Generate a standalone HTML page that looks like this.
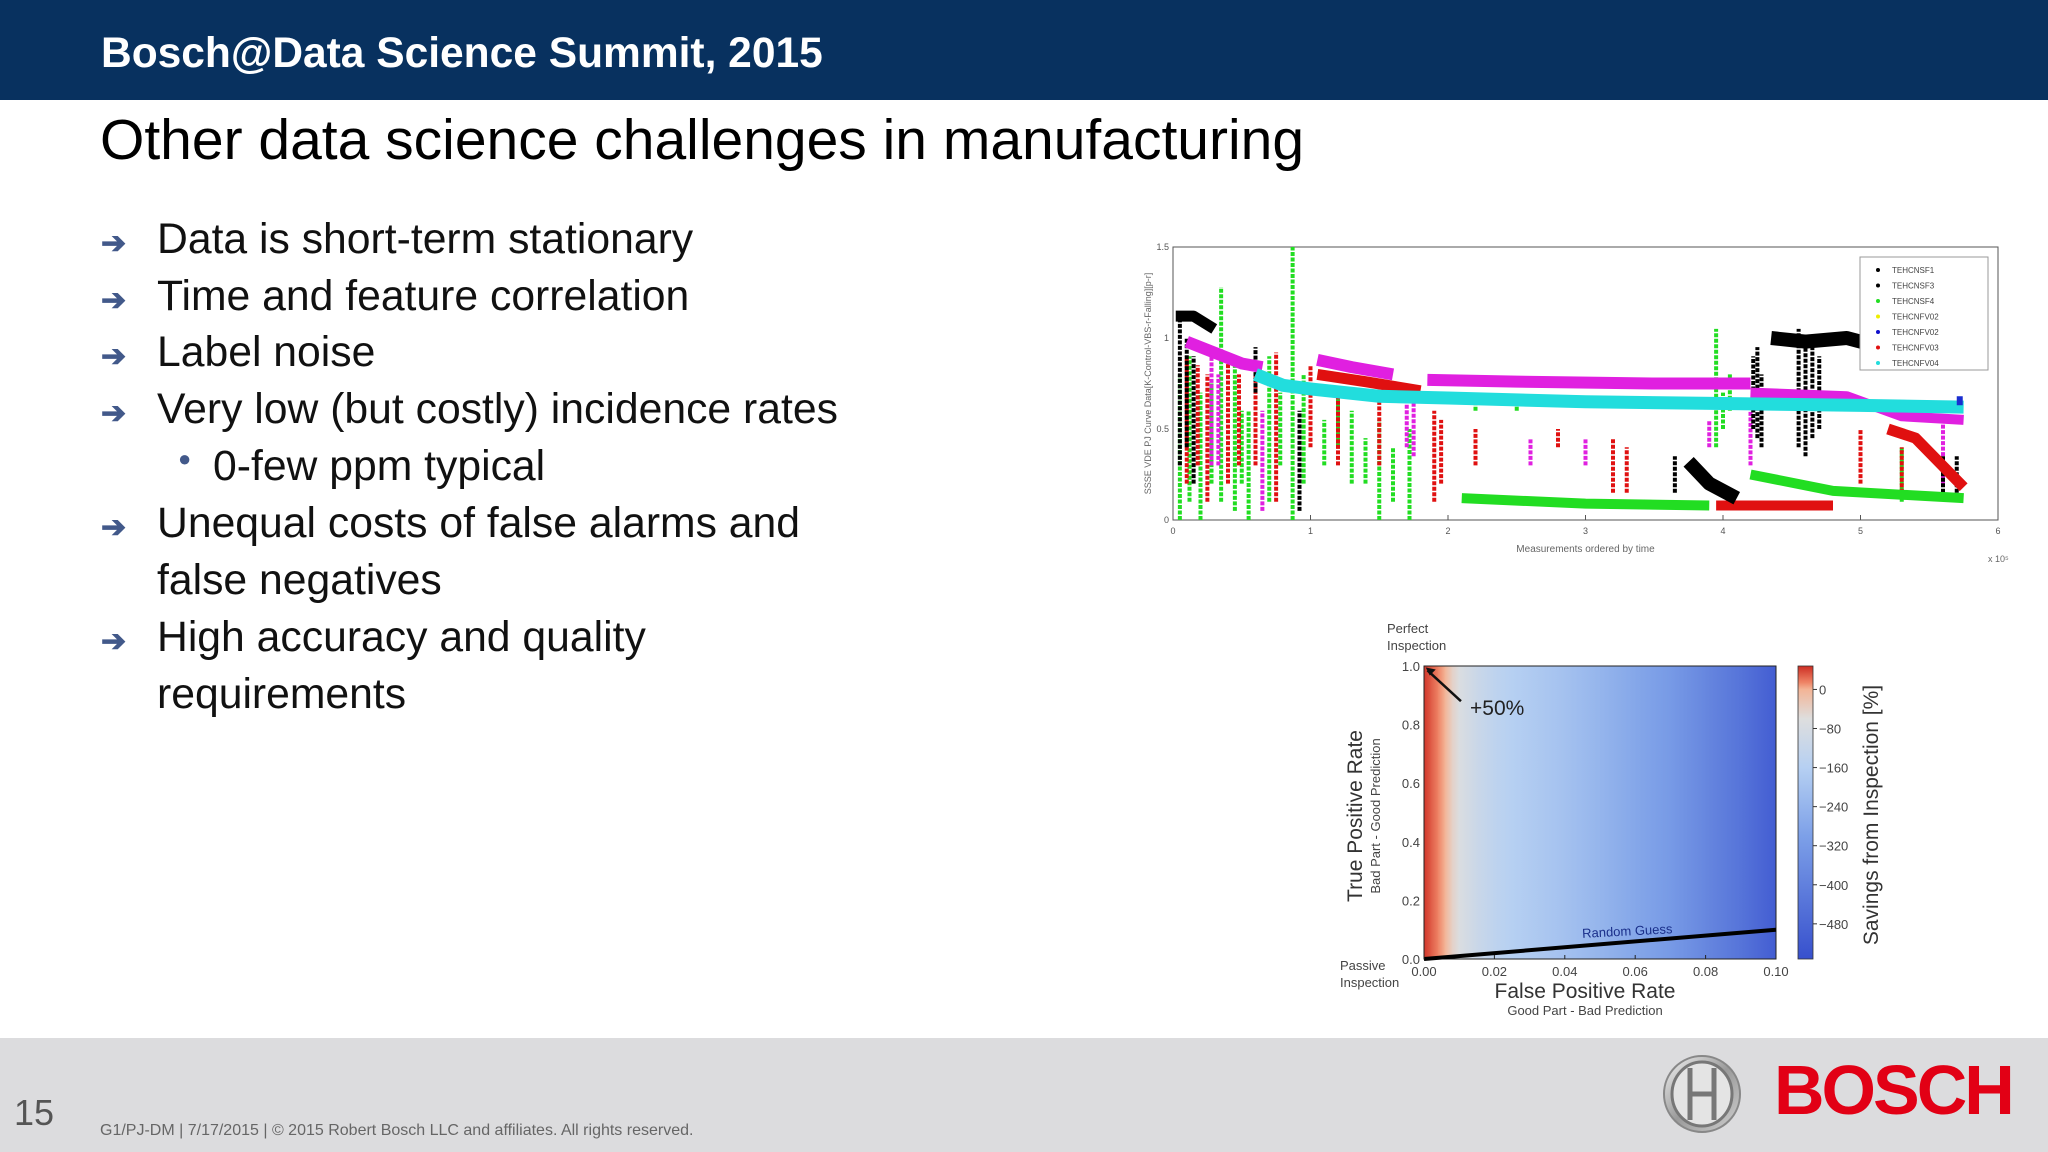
<!DOCTYPE html>
<html><head><meta charset="utf-8">
<style>
html,body{margin:0;padding:0}
body{width:2048px;height:1152px;position:relative;background:#fff;overflow:hidden;font-family:"Liberation Sans",Arial,sans-serif}
.abs{position:absolute}
.hdr{left:0;top:0;width:2048px;height:100px;background:#08315f}
.hdr span{position:absolute;left:101px;top:30px;color:#fff;font-weight:bold;font-size:42.5px;white-space:nowrap}
.sub{left:100px;top:107px;font-size:57px;color:#000;white-space:nowrap}
.bl{font-size:42.7px;color:#111;white-space:nowrap}
.arr{font-size:30px;color:#42598a;font-weight:bold}
.foot{left:0;top:1038px;width:2048px;height:114px;background:#dcdcde}
</style></head>
<body>
<div class="abs hdr"><span>Bosch@Data Science Summit, 2015</span></div>
<div class="abs sub">Other data science challenges in manufacturing</div>

<div>
<div class="abs arr" style="left:101px;top:226px">➔</div>
<div class="abs bl" style="left:157px;top:215px">Data is short-term stationary</div>
<div class="abs arr" style="left:101px;top:283px">➔</div>
<div class="abs bl" style="left:157px;top:272px">Time and feature correlation</div>
<div class="abs arr" style="left:101px;top:339px">➔</div>
<div class="abs bl" style="left:157px;top:328px">Label noise</div>
<div class="abs arr" style="left:101px;top:396px">➔</div>
<div class="abs bl" style="left:157px;top:385px">Very low (but costly) incidence rates</div>
<div class="abs bl" style="left:178px;top:446px;font-size:22px;color:#42598a">●</div>
<div class="abs bl" style="left:213px;top:442px">0-few ppm typical</div>
<div class="abs arr" style="left:101px;top:510px">➔</div>
<div class="abs bl" style="left:157px;top:499px">Unequal costs of false alarms and</div>
<div class="abs bl" style="left:157px;top:556px">false negatives</div>
<div class="abs arr" style="left:101px;top:624px">➔</div>
<div class="abs bl" style="left:157px;top:613px">High accuracy and quality</div>
<div class="abs bl" style="left:157px;top:670px">requirements</div>
</div>

<svg id="top" class="abs" style="left:1120px;top:230px" width="900" height="340"></svg>
<svg id="roc" class="abs" style="left:1320px;top:610px" width="600" height="420"></svg>

<div class="abs foot"></div>
<div class="abs" style="left:14px;top:1092px;font-size:36px;color:#555">15</div>
<div class="abs" style="left:100px;top:1122px;font-size:16px;color:#666;white-space:nowrap">G1/PJ-DM | 7/17/2015 | © 2015 Robert Bosch LLC and affiliates. All rights reserved.</div>
<svg class="abs" style="left:1660px;top:1052px" width="84" height="84">
<defs><linearGradient id="sil" x1="0" y1="0" x2="1" y2="1"><stop offset="0" stop-color="#f4f4f4"/><stop offset="0.5" stop-color="#9a9a9a"/><stop offset="1" stop-color="#d0d0d0"/></linearGradient></defs>
<ellipse cx="42" cy="42" rx="38" ry="38" fill="url(#sil)" stroke="#888" stroke-width="2"/>
<ellipse cx="42" cy="42" rx="30" ry="32" fill="#e4e4e4" stroke="#777" stroke-width="3"/>
<path d="M30 16 V68 M54 16 V68 M30 42 H54" stroke="#777" stroke-width="5" fill="none"/>
</svg>
<div class="abs" style="left:1774px;top:1050px;font-size:70px;font-weight:bold;color:#e20015;letter-spacing:-3px">BOSCH</div>

<script>
// ---------- top scatter chart data ----------
const topXTicks=[0,1,2,3,4,5,6];
const topYTicks=[0,0.5,1,1.5];
const legendLabels=["TEHCNSF1","TEHCNSF3","TEHCNSF4","TEHCNFV02","TEHCNFV02","TEHCNFV03","TEHCNFV04"];
const legendColors=["#000","#000","#22dd22","#eeee00","#1010cc","#e01010","#22dddd"];
const cyanX=[0.6,0.8,1.0,1.5,2.0,3.0,4.0,5.0,5.75];
const cyanY=[0.80,0.74,0.72,0.68,0.67,0.65,0.64,0.63,0.62];
const magAX=[0.1,0.3,0.5,0.65];
const magAY=[0.98,0.92,0.86,0.84];
const magBX=[1.05,1.3,1.6];
const magBY=[0.88,0.84,0.80];
const magCX=[1.85,2.5,3.5,4.2];
const magCY=[0.77,0.76,0.75,0.75];
const magDX=[4.2,4.9,5.3,5.75];
const magDY=[0.70,0.68,0.57,0.55];
const redAX=[1.05,1.4,1.8];
const redAY=[0.80,0.76,0.71];
const redBX=[3.95,4.8];
const redBY=[0.08,0.08];
const redCX=[5.2,5.4,5.75];
const redCY=[0.50,0.45,0.18];
const greenAX=[2.1,3.0,3.9];
const greenAY=[0.12,0.09,0.08];
const greenBX=[4.2,4.8,5.75];
const greenBY=[0.25,0.16,0.12];
const blackAX=[4.35,4.6,4.9,5.1];
const blackAY=[1.0,0.98,1.0,0.96];
const blackBX=[3.75,3.9,4.1];
const blackBY=[0.32,0.2,0.12];
const blackCX=[0.02,0.15,0.3];
const blackCY=[1.12,1.12,1.05];
const spikeGX=[0.05,0.12,0.2,0.28,0.35,0.45,0.5,0.55,0.7,0.78,0.87,0.95,1.1,1.2,1.3,1.4,1.5,1.6,1.72,2.2,2.5,3.95,4.0,4.05,5.3];
const spikeGLo=[0.0,0.1,0.0,0.2,0.1,0.05,0.2,0.0,0.1,0.3,0.0,0.2,0.3,0.4,0.2,0.2,0.0,0.1,0.0,0.6,0.6,0.4,0.5,0.6,0.1];
const spikeGHi=[0.8,0.9,0.7,0.75,1.28,0.9,0.6,0.6,0.9,0.7,1.5,0.8,0.55,0.7,0.6,0.45,0.55,0.4,0.5,0.68,0.66,1.05,0.7,0.8,0.4];
const spikeRX=[0.1,0.18,0.25,0.4,0.48,0.6,0.75,1.0,1.2,1.5,1.9,1.95,2.2,2.8,3.2,3.3,5.0,5.3];
const spikeRLo=[0.2,0.3,0.1,0.2,0.3,0.3,0.1,0.4,0.3,0.3,0.1,0.2,0.3,0.4,0.15,0.15,0.2,0.15];
const spikeRHi=[0.9,0.85,0.8,0.9,0.8,0.8,0.92,0.85,0.7,0.7,0.6,0.55,0.5,0.5,0.45,0.4,0.5,0.4];
const spikeMX=[0.28,0.33,0.65,1.7,1.75,2.6,3.0,3.9,4.2,5.6];
const spikeMLo=[0.3,0.3,0.05,0.4,0.35,0.3,0.3,0.4,0.3,0.2];
const spikeMHi=[0.9,0.8,0.6,0.75,0.7,0.45,0.45,0.55,0.6,0.55];
const spikeKX=[0.05,0.1,0.15,0.6,0.92,3.65,4.22,4.25,4.28,4.55,4.6,4.65,4.7,5.6,5.7];
const spikeKLo=[0.3,0.4,0.2,0.7,0.05,0.15,0.5,0.45,0.4,0.4,0.35,0.45,0.5,0.15,0.15];
const spikeKHi=[1.1,1.0,0.9,0.95,0.6,0.35,0.9,0.95,0.8,1.05,1.0,1.0,0.9,0.35,0.35];

const NS="http://www.w3.org/2000/svg";
function mk(p,t,a){const e=document.createElementNS(NS,t);for(const k in a)e.setAttribute(k,a[k]);p.appendChild(e);return e;}
const T=document.getElementById('top');
const tx0=53,tx1=878,ty0=290,ty1=17;
const sx=v=>tx0+(v-0)/6*(tx1-tx0);
const sy=v=>ty0-(v/1.5)*(ty0-ty1);
let fr=mk(T,'rect',{x:tx0,y:ty1,width:tx1-tx0,height:ty0-ty1,fill:'#fff',stroke:'#555','stroke-width':1});


topXTicks.forEach(t=>{
  const l=mk(T,'line',{x1:sx(t),x2:sx(t),y1:ty0,y2:ty0-5,stroke:'#555'});
  
  
  const tt=mk(T,'text',{x:sx(t),y:ty0+14,'font-size':9,'text-anchor':'middle',fill:'#555'});tt.textContent=t;
  
  
});
topYTicks.forEach(t=>{
  const tt=mk(T,'text',{x:tx0-4,y:sy(t)+3,'font-size':9,'text-anchor':'end',fill:'#555'});tt.textContent=t;
  
  
});
let xl=mk(T,'text',{x:(tx0+tx1)/2,y:ty0+32,'font-size':10,'text-anchor':'middle',fill:'#666'});xl.textContent='Measurements ordered by time';


let xe=mk(T,'text',{x:tx1-10,y:ty0+42,'font-size':9,fill:'#666'});xe.textContent='x 10⁵';


let yl=mk(T,'text',{x:0,y:0,'font-size':9,'text-anchor':'middle',fill:'#666',transform:`translate(${tx0-22},${(ty0+ty1)/2}) rotate(-90)`});yl.textContent='SSSE VDE PJ Curve Data[K-Control-VBS-r-Falling][p-r]';


function spikes(xs,lo,hi,c){xs.forEach((x,i)=>{const l=mk(T,'line',{x1:sx(x),x2:sx(x),y1:sy(lo[i]),y2:sy(hi[i]),stroke:c,'stroke-width':4,'stroke-dasharray':'4 1.5'});
  
  });}
function band(xs,ys,c,w){const p=mk(T,'polyline',{points:xs.map((x,i)=>sx(x)+','+sy(ys[i])).join(' '),fill:'none',stroke:c,'stroke-width':w,'stroke-linejoin':'round'});
  
  }
spikes(spikeGX,spikeGLo,spikeGHi,'#22dd22');
spikes(spikeRX,spikeRLo,spikeRHi,'#e01010');
spikes(spikeMX,spikeMLo,spikeMHi,'#e020e0');
spikes(spikeKX,spikeKLo,spikeKHi,'#000');
band(blackCX,blackCY,'#000',11);
band(redAX,redAY,'#e01010',11);
band(magAX,magAY,'#e020e0',12);
band(magBX,magBY,'#e020e0',12);
band(magCX,magCY,'#e020e0',12);
band(magDX,magDY,'#e020e0',10);
band(redCX,redCY,'#e01010',11);
band(greenAX,greenAY,'#22dd22',10);
band(greenBX,greenBY,'#22dd22',10);
band(redBX,redBY,'#e01010',10);
band(blackBX,blackBY,'#000',14);
band(blackAX,blackAY,'#000',14);
band(cyanX,cyanY,'#22dddd',13);
let bd=mk(T,'rect',{x:sx(5.7),y:sy(0.68),width:6,height:9,fill:'#1a2ed0'});


const lg=mk(T,'g',{});


mk(lg,'rect',{x:740,y:27,width:128,height:113,fill:'#fff',stroke:'#999'});
legendLabels.forEach((s,i)=>{
  const c=mk(lg,'circle',{cx:758,cy:40+i*15.5,r:2,fill:legendColors[i]});
  
  
  const t=mk(lg,'text',{x:772,y:43+i*15.5,'font-size':8,fill:'#444'});t.textContent=s;
  
  
});

// ---------- ROC savings heatmap ----------
const fprCols=[0,0.002,0.004,0.006,0.008,0.01,0.015,0.02,0.025,0.03,0.035,0.04,0.05,0.06,0.07,0.08,0.09,0.1];
const savingsVals=[45,30,15,0,-40,-70,-110,-140,-160,-175,-190,-205,-240,-280,-320,-380,-440,-510];
const fprTicks=[0,0.02,0.04,0.06,0.08,0.10];
const tprTicks=[0,0.2,0.4,0.6,0.8,1.0];
const cbTicks=[0,-80,-160,-240,-320,-400,-480];
const randomGuessX=[0,0.1];
const randomGuessY=[0,0.1];
const R=document.getElementById('roc');
const rx0=104,rx1=456,ry0=349,ry1=56;
const fx=v=>rx0+v/0.1*(rx1-rx0);
const fy=v=>ry0-v*(ry0-ry1);
const cmin=-552,cmax=48;
const cstops=[[48,[205,45,35]],[15,[238,130,100]],[0,[243,180,150]],[-60,[222,222,222]],[-160,[182,208,242]],[-300,[125,160,232]],[-552,[55,80,205]]];
function cmap(v){for(let i=0;i<cstops.length-1;i++){const a=cstops[i],b=cstops[i+1];if(v<=a[0]&&v>=b[0]){const t=(a[0]-v)/(a[0]-b[0]);return 'rgb('+a[1].map((c,k)=>Math.round(c+(b[1][k]-c)*t)).join(',')+')';}}return v>cmax?'rgb(205,45,35)':'rgb(55,80,205)';}
const defs=mk(R,'defs',{});
for(let i=0;i<fprCols.length-1;i++){
  const g=mk(defs,'linearGradient',{id:'hg'+i,x1:0,y1:0,x2:1,y2:0});
  mk(g,'stop',{offset:0,'stop-color':cmap(savingsVals[i])});
  mk(g,'stop',{offset:1,'stop-color':cmap(savingsVals[i+1])});
  const c=mk(R,'rect',{x:fx(fprCols[i])-0.3,y:ry1,width:fx(fprCols[i+1])-fx(fprCols[i])+0.6,height:ry0-ry1,fill:'url(#hg'+i+')'});
  
  
}
let rf=mk(R,'rect',{x:rx0,y:ry1,width:rx1-rx0,height:ry0-ry1,fill:'none',stroke:'#222','stroke-width':1});


let rg=mk(R,'line',{x1:fx(randomGuessX[0]),y1:fy(randomGuessY[0]),x2:fx(randomGuessX[1]),y2:fy(randomGuessY[1]),stroke:'#000','stroke-width':4});


let rgt=mk(R,'text',{x:0,y:0,'font-size':13,fill:'#1a2f8a',transform:`translate(${fx(0.045)},${fy(0.072)}) rotate(-3)`});rgt.textContent='Random Guess';


let ar=mk(R,'line',{x1:fx(0.0105),y1:fy(0.88),x2:fx(0.001),y2:fy(0.985),stroke:'#111','stroke-width':2.5});


let ah=mk(R,'path',{d:`M${fx(0.0005)},${fy(0.995)} l10,2 l-6,6 z`,fill:'#111'});


let p50=mk(R,'text',{x:150,y:105,'font-size':21,fill:'#222'});p50.textContent='+50%';


fprTicks.forEach(t=>{
  const tt=mk(R,'text',{x:fx(t),y:ry0+17,'font-size':13,'text-anchor':'middle',fill:'#444'});tt.textContent=t.toFixed(2);
  
  
  const l=mk(R,'line',{x1:fx(t),x2:fx(t),y1:ry0,y2:ry0-4,stroke:'#222'});
  
  
});
tprTicks.forEach(t=>{
  const tt=mk(R,'text',{x:rx0-4,y:fy(t)+5,'font-size':13,'text-anchor':'end',fill:'#444'});tt.textContent=t.toFixed(1);
  
  
});
function txt(x,y,s,fs,c,anchor,rot,name){const t=mk(R,'text',{x:0,y:0,'font-size':fs,fill:c,'text-anchor':anchor,transform:`translate(${x},${y})`+(rot?` rotate(${rot})`:'')});t.textContent=s;
  
  }
txt(67,23,'Perfect',13,'#444','start',0,'perfect-label');
txt(67,40,'Inspection',13,'#444','start',0,'perfect-label-2');
txt(20,360,'Passive',13,'#444','start',0,'passive-label');
txt(20,377,'Inspection',13,'#444','start',0,'passive-label-2');
txt(265,388,'False Positive Rate',21,'#333','middle',0,'x-axis-title');
txt(265,405,'Good Part - Bad Prediction',13,'#444','middle',0,'x-axis-subtitle');
txt(42,206,'True Positive Rate',21,'#333','middle',-90,'y-axis-title');
txt(60,206,'Bad Part - Good Prediction',13,'#444','middle',-90,'y-axis-subtitle');
const cbx=478,cbw=15;
const cy=v=>ry1+(cmax-v)/(cmax-cmin)*(ry0-ry1);
const cg=mk(defs,'linearGradient',{id:'cbg',x1:0,y1:0,x2:0,y2:1});
cstops.forEach(s=>mk(cg,'stop',{offset:(cmax-s[0])/(cmax-cmin),'stop-color':cmap(s[0])}));
let cb=mk(R,'rect',{x:cbx,y:ry1,width:cbw,height:ry0-ry1,fill:'url(#cbg)',stroke:'#333','stroke-width':0.8});


cbTicks.forEach(t=>{
  const l=mk(R,'line',{x1:cbx+cbw,x2:cbx+cbw+4,y1:cy(t),y2:cy(t),stroke:'#333'});
  
  
  const tt=mk(R,'text',{x:cbx+cbw+6,y:cy(t)+5,'font-size':13,fill:'#444'});tt.textContent=t===0?'0':'−'+(-t);
  
  
});
txt(558,205,'Savings from Inspection [%]',21,'#333','middle',-90,'colorbar-title');
</script>
</body></html>
